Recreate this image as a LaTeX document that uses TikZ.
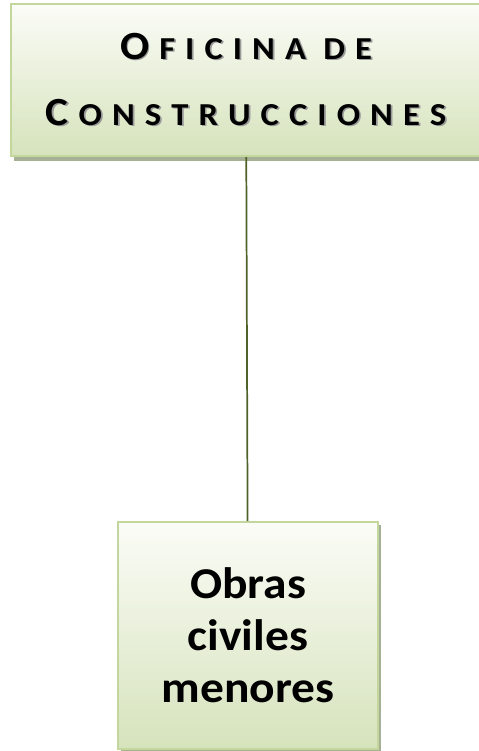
\documentclass[tikz,border=0pt]{standalone}
\usepackage{fontspec}
\setmainfont{Carlito}
\usepackage{graphicx}
\usepackage{tikz}
\usetikzlibrary{shadows}

\definecolor{boxline}{HTML}{C3D69B}
\definecolor{boxtop}{HTML}{FBFCF7}
\definecolor{boxbottom}{HTML}{D6E3BC}
\definecolor{boxshade}{HTML}{A6B094}
\definecolor{linkline}{HTML}{4F6228}
\definecolor{textshade}{HTML}{9A9A9A}

% spaced small-caps title letters
\newlength{\lettergap}\setlength{\lettergap}{7pt}
\def\spreadword#1{\spreadfirst#1\relax}
\def\spreadfirst#1{#1\spreadrest}
\def\spreadrest#1{\ifx#1\relax\else\hspace{\lettergap}#1\expandafter\spreadrest\fi}
\newcommand{\bigcapital}[1]{{\fontsize{30}{49.5}\selectfont #1}\hspace{\lettergap}}
\newcommand{\smallcapital}[1]{{\fontsize{24}{49.5}\selectfont\spreadword{#1}}}
\newcommand{\shadowed}[1]{\scalebox{1.08}[1]{\makebox[0pt][l]{\hspace{1.2pt}\raisebox{-1.2pt}{\color{textshade}#1}}#1}}

\begin{document}
\begin{tikzpicture}[x=0.75pt,y=-0.75pt,thick,
  office node/.style={rectangle,draw=boxline,line width=1.5pt,top color=boxtop,bottom color=boxbottom,
    inner sep=0pt,minimum width=352.5pt,minimum height=114pt,align=center,
    drop shadow={shadow xshift=2pt,shadow yshift=-3.5pt,fill=boxshade,opacity=1},
    font=\fontsize{30}{49.5}\selectfont\bfseries},
  unit node/.style={rectangle,draw=boxline,line width=1.5pt,top color=boxtop,bottom color=boxbottom,
    inner sep=0pt,minimum width=195pt,minimum height=170pt,align=center,
    drop shadow={shadow xshift=2.5pt,shadow yshift=-2pt,fill=boxshade,opacity=1},
    font=\fontsize{33}{39}\selectfont\bfseries}]
  \useasboundingbox (0,0) rectangle (479,751);

  \node[office node] (oficina) at (246,80)
    {\shadowed{\bigcapital{O}\smallcapital{FICINA}\hspace{\lettergap}\hspace{5pt}\smallcapital{DE}}\\
     \shadowed{\bigcapital{C}\smallcapital{ONSTRUCCIONES}}};
  \node[unit node] (obras) at (248,635.5)
    {\raisebox{-3pt}{\scalebox{1.08}[1]{\parbox{170pt}{\centering Obras\\civiles\\menores}}}};

  \path[draw=linkline,line width=1.3pt]
    (oficina) edge (obras);
\end{tikzpicture}
\end{document}
